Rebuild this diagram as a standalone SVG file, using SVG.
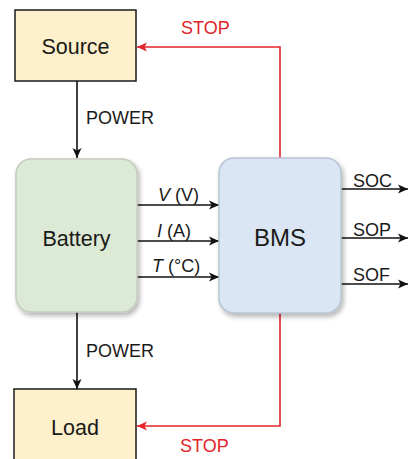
<svg xmlns="http://www.w3.org/2000/svg" width="408" height="459" viewBox="0 0 408 459">
  <style>
    text { font-family: "Liberation Sans", Arial, sans-serif; fill: #1a1a1a; }
    .lbl { font-size: 18px; }
    .red { fill: #e3242b; }
    .box { font-size: 21.5px; }
    .wire { fill: none; stroke: #111; stroke-width: 1.6; }
    .stop { fill: none; stroke: #e3242b; stroke-width: 1.6; }
  </style>
  <defs>
    <marker id="ah" markerUnits="userSpaceOnUse" markerWidth="12" markerHeight="12" viewBox="0 0 12 12" refX="11" refY="6" orient="auto">
      <path d="M1,1.5 L11,6 L1,10.5 L3.5,6 Z" fill="#111"/>
    </marker>
    <marker id="ahr" markerUnits="userSpaceOnUse" markerWidth="12" markerHeight="12" viewBox="0 0 12 12" refX="11" refY="6" orient="auto">
      <path d="M1,1.5 L11,6 L1,10.5 L3.5,6 Z" fill="#e3242b"/>
    </marker>
    <filter id="sh" x="-20%" y="-20%" width="140%" height="140%">
      <feGaussianBlur in="SourceAlpha" stdDeviation="2.5"/>
      <feOffset dx="2" dy="3" result="b"/>
      <feComponentTransfer><feFuncA type="linear" slope="0.3"/></feComponentTransfer>
      <feMerge><feMergeNode/><feMergeNode in="SourceGraphic"/></feMerge>
    </filter>
  </defs>

  <g id="connectors">
    <line class="wire" x1="77" y1="81" x2="77" y2="158" marker-end="url(#ah)"/>
    <line class="wire" x1="77" y1="312" x2="77" y2="389" marker-end="url(#ah)"/>
    <line class="wire" x1="137" y1="205" x2="219" y2="205" marker-end="url(#ah)"/>
    <line class="wire" x1="137" y1="241" x2="219" y2="241" marker-end="url(#ah)"/>
    <line class="wire" x1="137" y1="277" x2="219" y2="277" marker-end="url(#ah)"/>
    <line class="wire" x1="341" y1="189" x2="408" y2="189" marker-end="url(#ah)"/>
    <line class="wire" x1="341" y1="238" x2="408" y2="238" marker-end="url(#ah)"/>
    <line class="wire" x1="341" y1="284" x2="408" y2="284" marker-end="url(#ah)"/>
    <path class="stop" d="M280,158 V47 H137" marker-end="url(#ahr)"/>
    <path class="stop" d="M280,313 V426 H137" marker-end="url(#ahr)"/>
    <text class="lbl" x="86" y="124">POWER</text>
    <text class="lbl" x="86" y="357">POWER</text>
    <text class="lbl red" x="181" y="34">STOP</text>
    <text class="lbl red" x="180" y="452">STOP</text>
    <text class="lbl" x="158" y="201"><tspan font-style="italic">V</tspan> (V)</text>
    <text class="lbl" x="157" y="237"><tspan font-style="italic">I</tspan> (A)</text>
    <text class="lbl" x="152" y="272"><tspan font-style="italic">T</tspan> (°C)</text>
    <text class="lbl" x="353" y="187">SOC</text>
    <text class="lbl" x="353" y="236">SOP</text>
    <text class="lbl" x="353" y="281">SOF</text>
  </g>

  <g id="source">
    <rect x="15" y="10" width="121" height="71" fill="#fdf0ca" stroke="#1a1a1a" stroke-width="1.5"/>
    <text class="box" x="75.5" y="53.5" text-anchor="middle">Source</text>
  </g>
  <g id="load">
    <rect x="14" y="389" width="122" height="72" fill="#fdf0ca" stroke="#1a1a1a" stroke-width="1.5"/>
    <text class="box" x="75" y="434.5" text-anchor="middle">Load</text>
  </g>
  <g id="battery">
    <rect x="16" y="159" width="121" height="153" rx="15" fill="#dce9d4" stroke="#c4cbbf" stroke-width="1.5" filter="url(#sh)"/>
    <text class="box" x="76.5" y="245.5" text-anchor="middle">Battery</text>
  </g>
  <g id="bms">
    <rect x="219" y="158" width="122" height="155" rx="15" fill="#dae6f3" stroke="#b9c4d2" stroke-width="1.5" filter="url(#sh)"/>
    <text x="280" y="246" text-anchor="middle" font-size="24">BMS</text>
  </g>
</svg>
